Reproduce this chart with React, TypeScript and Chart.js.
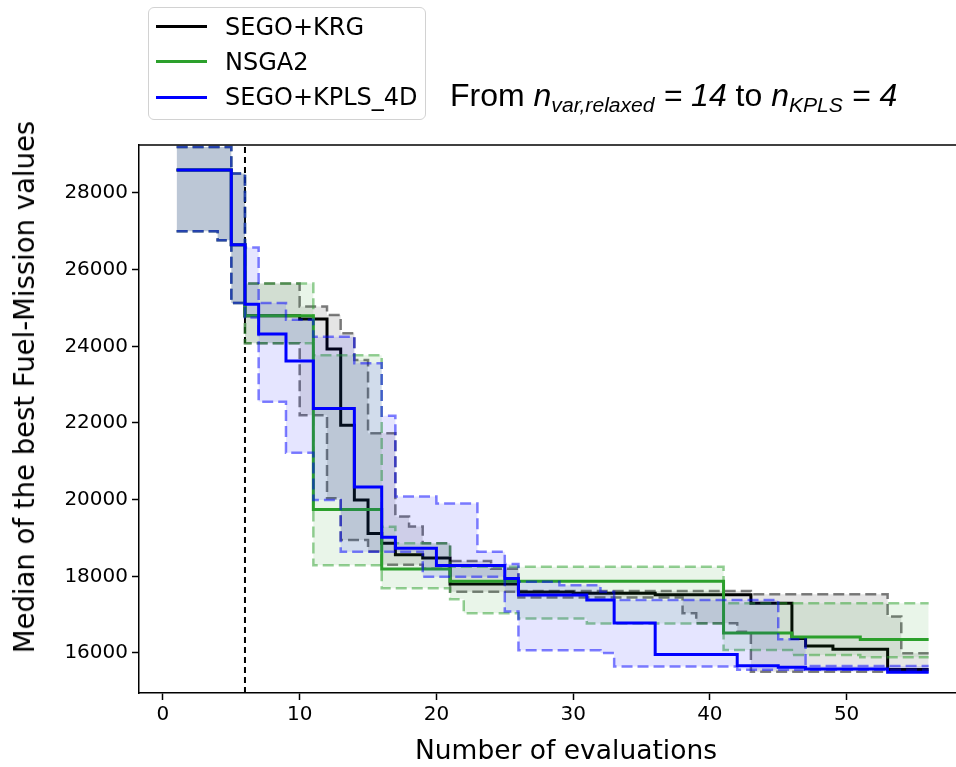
import React, { useEffect, useRef } from 'react';
import { Chart, registerables } from 'chart.js';

Chart.register(...registerables);

// ---------------- data ----------------
const evaluations = [1, 2, 3, 4, 5, 6, 7, 8, 9, 10, 11, 12, 13, 14, 15, 16, 17, 18, 19, 20, 21, 22, 23, 24, 25, 26, 27, 28, 29, 30, 31, 32, 33, 34, 35, 36, 37, 38, 39, 40, 41, 42, 43, 44, 45, 46, 47, 48, 49, 50, 51, 52, 53, 54, 55, 56];

// SEGO+KRG (black)
const krgMedian = [28600, 28600, 28600, 28600, 26650, 24800, 24800, 24800, 24800, 24710, 24710, 23930, 21940, 19990, 19120, 18860, 18560, 18560, 18480, 18480, 17800, 17800, 17800, 17800, 17800, 17590, 17590, 17590, 17590, 17560, 17560, 17560, 17560, 17560, 17560, 17520, 17520, 17520, 17520, 17520, 17520, 17520, 17300, 17300, 17300, 16380, 16180, 16180, 16100, 16100, 16100, 16100, 15570, 15570, 15570, 15570];
const krgUpper = [29200, 29200, 29200, 29200, 28510, 25640, 25640, 25640, 25640, 25040, 25040, 24820, 24340, 23640, 21730, 21730, 19560, 19300, 18860, 18860, 18400, 18400, 18400, 18200, 18200, 17620, 17620, 17620, 17620, 17620, 17620, 17620, 17620, 17620, 17620, 17620, 17620, 17620, 17620, 17620, 17620, 17620, 17530, 17530, 17530, 17530, 17530, 17530, 17530, 17530, 17530, 17530, 16950, 15990, 15990, 15990];
const krgLower = [27000, 27000, 27000, 26770, 25130, 24080, 24080, 24080, 24080, 22200, 22200, 20035, 18950, 18950, 18650, 18300, 18300, 18300, 18200, 18200, 17600, 17600, 17600, 17600, 17600, 17450, 17450, 17450, 17450, 17450, 17450, 17450, 17450, 17450, 17450, 17450, 17450, 17035, 16774, 16774, 16774, 16555, 15510, 15510, 15510, 15510, 15510, 15510, 15510, 15510, 15510, 15510, 15510, 15510, 15510, 15510];

// NSGA2 (green)
const nsgaMedian = [28600, 28600, 28600, 28600, 26650, 24800, 24800, 24800, 24800, 24800, 19740, 19740, 19740, 19740, 19740, 18190, 18190, 18190, 18190, 18190, 17870, 17870, 17870, 17870, 17870, 17870, 17870, 17870, 17870, 17870, 17870, 17870, 17870, 17870, 17870, 17870, 17870, 17870, 17870, 17870, 16520, 16520, 16520, 16520, 16520, 16420, 16420, 16420, 16420, 16420, 16350, 16350, 16350, 16350, 16350, 16350];
const nsgaUpper = [29200, 29200, 29200, 29200, 28510, 25640, 25640, 25640, 25640, 25640, 23770, 23770, 23770, 23770, 23770, 19290, 18860, 18860, 18860, 18860, 18250, 18250, 18250, 18250, 18250, 18250, 18250, 18250, 18250, 18250, 18250, 18250, 18250, 18250, 18250, 18250, 18250, 18250, 18250, 18250, 17295, 17295, 17295, 17295, 17295, 17295, 17295, 17295, 17295, 17295, 17295, 17295, 17295, 17295, 17295, 17295];
const nsgaLower = [27000, 27000, 27000, 26770, 25130, 24080, 24080, 24080, 24080, 24080, 18290, 18290, 18290, 18290, 18290, 17690, 17690, 17690, 17690, 17690, 17400, 17035, 17035, 17035, 17035, 16900, 16900, 16900, 16900, 16900, 16770, 16770, 16770, 16770, 16770, 16770, 16770, 16770, 16770, 16770, 16080, 16080, 16080, 16080, 16080, 15950, 15950, 15950, 15950, 15950, 15890, 15890, 15890, 15890, 15890, 15890];

// SEGO+KPLS_4D (blue)
const kplsMedian = [28600, 28600, 28600, 28600, 26650, 25100, 24320, 24320, 23620, 23620, 22380, 22380, 22380, 20330, 20330, 19020, 18730, 18730, 18730, 18280, 18280, 18280, 18280, 18280, 17940, 17510, 17510, 17510, 17510, 17510, 17380, 17380, 16780, 16780, 16780, 15960, 15960, 15960, 15960, 15960, 15960, 15665, 15665, 15665, 15625, 15625, 15580, 15580, 15580, 15580, 15580, 15580, 15500, 15500, 15500, 15500];
const kplsUpper = [29200, 29200, 29200, 29200, 28510, 26580, 25130, 25130, 24690, 24690, 24250, 24250, 24250, 23560, 23560, 22190, 20080, 20080, 20080, 19900, 19900, 19900, 18640, 18640, 18320, 17860, 17860, 17860, 17770, 17770, 17770, 17600, 17380, 17380, 17380, 17380, 17380, 17380, 17380, 17380, 17380, 17380, 17380, 17380, 16360, 16360, 15660, 15660, 15660, 15660, 15660, 15660, 15660, 15660, 15660, 15660];
const kplsLower = [27000, 27000, 27000, 26770, 25130, 24750, 22555, 22555, 21225, 21225, 19990, 19990, 18640, 18640, 18640, 18640, 18640, 18640, 17990, 17990, 17990, 17990, 17990, 17990, 17080, 16070, 16070, 16070, 16070, 16070, 16070, 16000, 15650, 15650, 15650, 15650, 15650, 15650, 15650, 15650, 15650, 15560, 15560, 15560, 15560, 15560, 15560, 15560, 15560, 15560, 15560, 15560, 15560, 15560, 15560, 15560];

const xTicks = [0, 10, 20, 30, 40, 50];
const yTicks = [16000, 18000, 20000, 22000, 24000, 26000, 28000];
const doeEnd = 6;

const seriesNames = ['SEGO+KRG', 'NSGA2', 'SEGO+KPLS_4D'];
const seriesColors = ['0,0,0', '44,160,44', '0,0,255'];
const xTitle = 'Number of evaluations';
const yTitle = 'Median of the best Fuel-Mission values';

// ---------------- component ----------------
const pts = (ys: number[]) => evaluations.map((x, i) => ({ x, y: ys[i] }));

export default function App() {
  const ref = useRef<HTMLCanvasElement | null>(null);

  useEffect(() => {
    const canvas = ref.current;
    if (!canvas) return;

    const groups = [
      { med: kplsMedian, up: kplsUpper, lo: kplsLower, c: seriesColors[2] },
      { med: nsgaMedian, up: nsgaUpper, lo: nsgaLower, c: seriesColors[1] },
      { med: krgMedian, up: krgUpper, lo: krgLower, c: seriesColors[0] },
    ];
    const datasets: any[] = [];
    groups.forEach((g, gi) => {
      const base = gi * 3;
      datasets.push({
        data: pts(g.med), borderColor: `rgb(${g.c})`, borderWidth: 3,
        stepped: true, pointRadius: 0, fill: false, order: base,
      });
      datasets.push({
        data: pts(g.up), borderColor: `rgba(${g.c},0.5)`, borderWidth: 2.5,
        borderDash: [11, 5], stepped: true, pointRadius: 0,
        backgroundColor: `rgba(${g.c},0.1)`, fill: base + 2, order: base + 1,
      });
      datasets.push({
        data: pts(g.lo), borderColor: `rgba(${g.c},0.5)`, borderWidth: 2.5,
        borderDash: [11, 5], stepped: true, pointRadius: 0, fill: false, order: base + 2,
      });
    });

    const frame = {
      id: 'frame',
      beforeDatasetsDraw(chart: any) {
        const { ctx, chartArea, scales } = chart;
        const px = scales.x.getPixelForValue(doeEnd);
        ctx.save();
        ctx.strokeStyle = '#000';
        ctx.lineWidth = 2;
        ctx.setLineDash([6, 4]);
        ctx.beginPath();
        ctx.moveTo(px, chartArea.bottom);
        ctx.lineTo(px, chartArea.top);
        ctx.stroke();
        ctx.restore();
      },
      afterDraw(chart: any) {
        const { ctx, chartArea } = chart;
        ctx.save();
        ctx.strokeStyle = '#000';
        ctx.lineWidth = 1.5;
        ctx.beginPath();
        ctx.moveTo(chartArea.left, chartArea.top);
        ctx.lineTo(chartArea.right, chartArea.top);
        ctx.stroke();
        ctx.restore();
      },
    };

    const tickFont = { family: '"DejaVu Sans", sans-serif', size: 20 };
    const chart = new Chart(canvas, {
      type: 'line',
      data: { datasets },
      options: {
        animation: false,
        responsive: false,
        layout: { padding: { top: 145, left: 0, right: 0, bottom: 0 } },
        plugins: { legend: { display: false }, title: { display: false }, tooltip: { enabled: false } },
        scales: {
          x: {
            type: 'linear', min: -1.75, max: 58.0,
            afterBuildTicks: (s: any) => { s.ticks = xTicks.map((v) => ({ value: v })); },
            afterFit: (s: any) => { s.height = 74; },
            ticks: { font: tickFont, color: '#000', padding: 3, maxRotation: 0, callback: (v: any) => String(v) },
            grid: { drawOnChartArea: false, drawTicks: true, tickLength: 7, tickWidth: 1.5, tickColor: '#000' },
            border: { display: true, color: '#000', width: 1.5 },
          },
          y: {
            type: 'linear', min: 14956, max: 29252,
            afterBuildTicks: (s: any) => { s.ticks = yTicks.map((v) => ({ value: v })); },
            afterFit: (s: any) => { s.width = 139; },
            ticks: { font: tickFont, color: '#000', padding: 4, callback: (v: any) => String(v) },
            grid: { drawOnChartArea: false, drawTicks: true, tickLength: 7, tickWidth: 1.5, tickColor: '#000' },
            border: { display: true, color: '#000', width: 1.5 },
          },
        },
      },
      plugins: [frame],
    } as any);
    return () => chart.destroy();
  }, []);

  const legendRows = [
    { name: seriesNames[0], color: `rgb(${seriesColors[0]})`, y: 26.5 },
    { name: seriesNames[1], color: `rgb(${seriesColors[1]})`, y: 61.5 },
    { name: seriesNames[2], color: `rgb(${seriesColors[2]})`, y: 97 },
  ];
  const sub: React.CSSProperties = { fontSize: '0.66em', position: 'relative', top: '0.3em' };

  return (
    <div style={{ position: 'absolute', left: 0, top: 0, width: 956, height: 767, overflow: 'hidden', background: '#fff' }}>
      <canvas ref={ref} width={956} height={767} style={{ position: 'absolute', left: 0, top: 0 }} />
      <div style={{ position: 'absolute', left: 148, top: 7, width: 278, height: 113, border: '1.5px solid #d2d2d2', borderRadius: 6, boxSizing: 'border-box', background: 'rgba(255,255,255,0.8)' }} />
      {legendRows.map((r) => (
        <React.Fragment key={r.name}>
          <div style={{ position: 'absolute', left: 156, top: r.y - 1.5, width: 51, height: 3, background: r.color }} />
          <div style={{ position: 'absolute', left: 225, top: r.y - 14, lineHeight: '28px', font: '24px "DejaVu Sans", sans-serif', color: '#000', whiteSpace: 'nowrap' }}>{r.name}</div>
        </React.Fragment>
      ))}
      <div style={{ position: 'absolute', left: 450, top: 77, lineHeight: '32px', font: '32px "Liberation Sans", Arial, sans-serif', color: '#000', whiteSpace: 'nowrap' }}>
        From <i>n</i><i style={sub}>var,relaxed</i><i> = 14</i> to <i>n</i><i style={sub}>KPLS</i><i> = 4</i>
      </div>
      <div style={{ position: 'absolute', left: 566, top: 750, transform: 'translate(-50%, -50%)', font: '26.5px "DejaVu Sans", sans-serif', lineHeight: '30px', color: '#000', whiteSpace: 'nowrap' }}>{xTitle}</div>
      <div style={{ position: 'absolute', left: 24, top: 387, transform: 'translate(-50%, -50%) rotate(-90deg)', font: '27.5px "DejaVu Sans", sans-serif', lineHeight: '30px', color: '#000', whiteSpace: 'nowrap' }}>{yTitle}</div>
    </div>
  );
}
